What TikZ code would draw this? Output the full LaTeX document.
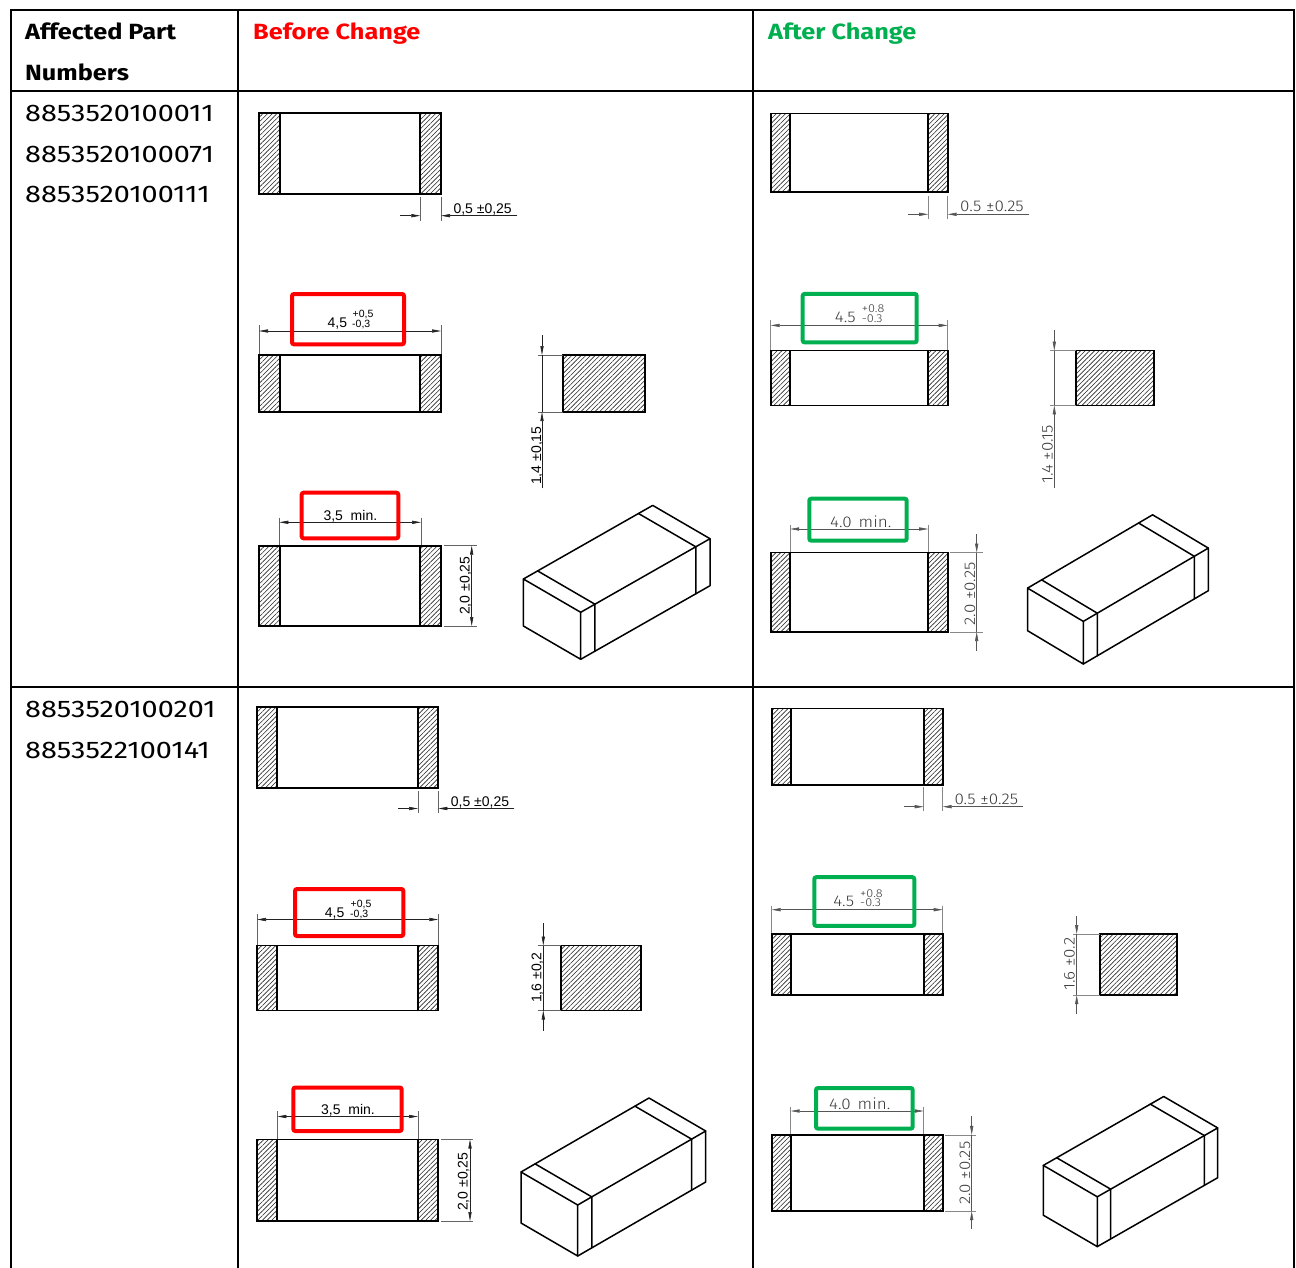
\documentclass[tikz,border=0pt]{standalone}
\usepackage{fontspec}
\setmainfont{Fira Sans}
\newfontfamily\arialf{Liberation Sans}
\newfontfamily\hdrfont[FakeStretch=1.15]{Fira Sans}
\newfontfamily\pnfont[FakeStretch=1.2]{Fira Sans}
\newfontfamily\afont[FakeStretch=1.1]{Fira Sans Light}
\usetikzlibrary{patterns.meta,arrows.meta}
\definecolor{bred}{HTML}{FF0000}
\definecolor{agreen}{HTML}{00B050}
\definecolor{bdimc}{HTML}{222222}
\definecolor{adimc}{HTML}{555555}
\definecolor{adimt}{HTML}{3A3A3A}
\def\dc{bdimc}
\tikzset{
  >={Triangle[length=9pt,width=3.2pt]},
  tablerule/.style={line width=2pt,black,line cap=rect},
  hatchfill/.style={pattern={Lines[angle=45,distance=3.3pt,line width=0.6pt]},pattern color=black!85},
  bodyline/.style={line width=1.7pt,black},
  dimln/.style={line width=0.6pt,draw=\dc},
  extln/.style={line width=0.5pt,draw=\dc!70},
  isoln/.style={line width=1.5pt,black,line join=round,line cap=round},
  redbox/.style={draw=bred,line width=4pt,rounded corners=2pt},
  greenbox/.style={draw=agreen,line width=4pt,rounded corners=2pt},
  hdr/.style={font=\hdrfont\bfseries\fontsize{22}{26}\selectfont,anchor=base west,inner sep=0pt},
  pn/.style={font=\pnfont\fontsize{24}{28}\selectfont,anchor=base west,inner sep=0pt},
  bdim/.style={font=\arialf\fontsize{14}{16}\selectfont,inner sep=0pt,text=black},
  btol/.style={font=\arialf\fontsize{10.5}{11}\selectfont,inner sep=0pt,text=black},
  adim/.style={font=\afont\fontsize{15.5}{17}\selectfont,inner sep=0pt,text=adimt},
  atol/.style={font=\afont\fontsize{11.5}{12}\selectfont,inner sep=0pt,text=adimt}
}
% chip top view: x1 x2 y1 y2 terminal
\newcommand\mychip[5]{%
  \path[hatchfill] (#1,#3) rectangle ({#1+#5},#4);
  \path[hatchfill] ({#2-#5},#3) rectangle (#2,#4);
  \draw[bodyline] (#1,#3) rectangle (#2,#4);
  \draw[bodyline] ({#1+#5},#3) -- ({#1+#5},#4) ({#2-#5},#3) -- ({#2-#5},#4);
}
% end view: x1 x2 y1 y2
\newcommand\myend[4]{%
  \path[hatchfill] (#1,#3) rectangle (#2,#4);
  \draw[bodyline] (#1,#3) rectangle (#2,#4);
}
% horizontal dim, outward tips: x1 x2 y yext1 yext2
\newcommand\myhdim[5]{%
  \draw[extln] (#1,#4) -- (#1,#5) (#2,#4) -- (#2,#5);
  \draw[dimln,<->] (#1,#3) -- (#2,#3);
}
% small dim, tips from outside: xout x1 x2 xend y yext1 yext2
\newcommand\mysdim[7]{%
  \draw[extln] (#2,#6) -- (#2,#7) (#3,#6) -- (#3,#7);
  \draw[dimln,->] (#1,#5) -- (#2,#5);
  \draw[dimln,->] (#4,#5) -- (#3,#5);
}
% vertical dim, tips from outside: x yout1 y1 y2 yout2 xext1 xext2
\newcommand\myvin[7]{%
  \draw[extln] (#6,#3) -- (#7,#3) (#6,#4) -- (#7,#4);
  \draw[dimln] (#1,#3) -- (#1,#4);
  \draw[dimln,->] (#1,#2) -- (#1,#3);
  \draw[dimln,->] (#1,#5) -- (#1,#4);
}
% vertical dim, outward tips: x y1 y2 xext1 xext2
\newcommand\myvout[5]{%
  \draw[extln] (#4,#2) -- (#5,#2) (#4,#3) -- (#5,#3);
  \draw[dimln,<->] (#1,#2) -- (#1,#3);
}
% isometric chip: Nx Ny Wx Wy Lx Ly H f
\newcommand\myiso[8]{%
  \begin{scope}[shift={(#1,#2)}]
    \draw[isoln] (0,0) -- (0,-#7) -- ({#3},{#4-#7}) -- ({#3},{#4}) -- cycle;
    \draw[isoln] (0,0) -- ({#5},{#6}) -- ({#5},{#6-#7}) -- (0,-#7);
    \draw[isoln] ({#5},{#6-#7}) -- ({#5+#3},{#6+#4-#7}) -- ({#3},{#4-#7});
    \draw[isoln] ({#8*(#5)},{#8*(#6)}) -- ({#8*(#5)},{#8*(#6)-#7}) -- ({#8*(#5)+#3},{#8*(#6)+#4-#7});
    \draw[isoln] ({(1-#8)*(#5)},{(1-#8)*(#6)}) -- ({(1-#8)*(#5)},{(1-#8)*(#6)-#7}) -- ({(1-#8)*(#5)+#3},{(1-#8)*(#6)+#4-#7});
  \end{scope}}
\begin{document}
\begin{tikzpicture}[x=1pt,y=-1pt]
\useasboundingbox[fill=white] (0,0) rectangle (1296,1268);
% table
\draw[tablerule] (11,10) -- (1294,10);
\draw[tablerule] (11,91) -- (1294,91);
\draw[tablerule] (11,687) -- (1294,687);
\draw[tablerule] (11,10) -- (11,1270);
\draw[tablerule] (238,10) -- (238,1270);
\draw[tablerule] (753,10) -- (753,1270);
\draw[tablerule] (1294,10) -- (1294,1270);
% headers
\node[hdr] (h1) at (25,40) {Affected Part};
\node[hdr] (h1b) at (25,81) {Numbers};
\node[hdr,text=bred] (h2) at (253,40) {Before Change};
\node[hdr,text=agreen] (h3) at (768,40) {After Change};
% part numbers
\node[pn] (p1) at (25,122) {8853520100011};
\node[pn] (p2) at (25,162.5) {8853520100071};
\node[pn] (p3) at (25,203) {8853520100111};
\node[pn] (p4) at (25,717.5) {8853520100201};
\node[pn] (p5) at (25,758) {8853522100141};

% ===== Before, row 1 =====
\def\dc{bdimc}
\mychip{259}{441}{112.7}{193.7}{20.7}
\mysdim{400}{420.3}{441}{517.3}{215.7}{197}{221}
\node[bdim,anchor=base west] (b1a) at (453.3,213.3) {0,5 ±0,25};
\myhdim{259}{441}{331}{325}{355}
\node[bdim,anchor=base east] (b1b) at (347.3,327.7) {4,5};
\node[btol,anchor=base west] (b1c) at (352.5,317.7) {+0,5};
\node[btol,anchor=base west] (b1d) at (352,327.3) {-0,3};
\draw[redbox] (292,294) rectangle (404,344.3);
\mychip{259}{441}{355}{412}{20.7}
\myend{563}{645}{355}{412}
\myvin{542}{335}{355}{412}{488.3}{538}{563}
\node[bdim,rotate=90,anchor=base west] (b1e) at (541,485) {1,4 ±0,15};
\myhdim{279.3}{421}{522.3}{517.7}{545.7}
\node[bdim,anchor=base west] (b1f) at (323.3,520.7) {3,5\ \ min.};
\draw[redbox] (301.7,492.7) rectangle (398.3,538.3);
\mychip{259}{441}{545.7}{626}{20.7}
\myvout{471.7}{545.7}{626}{444}{476.7}
\node[bdim,rotate=90,anchor=base west] (b1g) at (469.5,615) {2,0 ±0,25};
\myiso{580.7}{659.3}{-57.3}{-33.3}{129.3}{-73.6}{47}{0.11}

% ===== Before, row 2 =====
\mychip{257}{438.3}{707}{788}{20.3}
\mysdim{398.3}{418}{438.3}{514.3}{808.5}{791}{812.5}
\node[bdim,anchor=base west] (b2a) at (450.7,806.5) {0,5 ±0,25};
\myhdim{257}{438.3}{919.5}{914}{945.5}
\node[bdim,anchor=base east] (b2b) at (344.5,917) {4,5};
\node[btol,anchor=base west] (b2c) at (350.5,907.8) {+0,5};
\node[btol,anchor=base west] (b2d) at (350,917.3) {-0,3};
\draw[redbox] (295,889) rectangle (403.3,936);
\mychip{257}{438.3}{945.5}{1010.5}{20.3}
\myend{560.7}{641}{945.5}{1010.5}
\myvin{543.3}{923}{945.5}{1010.5}{1030.5}{537.7}{560.7}
\node[bdim,rotate=90,anchor=base west] (b2e) at (541.3,1003) {1,6 ±0,2};
\myhdim{277.3}{418}{1116.5}{1111}{1139.5}
\node[bdim,anchor=base west] (b2f) at (321,1114.3) {3,5\ \ min.};
\draw[redbox] (293.3,1087.5) rectangle (401.7,1131);
\mychip{257}{438.3}{1139.5}{1221}{20.3}
\myvout{470}{1139.5}{1221}{441}{473.3}
\node[bdim,rotate=90,anchor=base west] (b2g) at (467.5,1211) {2,0 ±0,25};
\myiso{577.7}{1256}{-56.7}{-33}{128}{-74}{51}{0.11}

% ===== After, row 1 =====
\def\dc{adimc}
\mychip{770.7}{947.7}{113.5}{192}{19.5}
\mysdim{907.7}{928.2}{947.7}{1029.3}{214.3}{195.7}{219}
\node[adim,anchor=base west] (a1a) at (960,212) {0.5 ±0.25};
\myhdim{770.7}{947.7}{325.4}{320}{350.6}
\node[adim,anchor=base east] (a1b) at (856,322.8) {4.5};
\node[atol,anchor=base west] (a1c) at (861.7,312.8) {+0.8};
\node[atol,anchor=base west] (a1d) at (861.7,322) {-0.3};
\draw[greenbox] (802.7,293.9) rectangle (916.7,342.4);
\mychip{770.7}{947.7}{350.6}{405.4}{19.5}
\myend{1075.7}{1154.3}{350.6}{405.4}
\myvin{1054.3}{330}{350.6}{405.4}{488.3}{1050}{1075.7}
\node[adim,rotate=90,anchor=base west] (a1e) at (1052.5,484) {1.4 ±0.15};
\myhdim{790.2}{928.2}{529}{524.6}{552.5}
\node[adim,anchor=base west] (a1f) at (830,527) {4.0\hspace{0.45em}min.};
\draw[greenbox] (809.3,498.7) rectangle (906.7,540.6);
\mychip{770.7}{947.7}{552.5}{632}{19.5}
\myvin{976.7}{534}{552.5}{632}{650.5}{950}{982.7}
\node[adim,rotate=90,anchor=base west] (a1g) at (975,625.5) {2.0 ±0.25};
\myiso{1083.3}{664}{-55.7}{-33.3}{125}{-73.3}{42.6}{0.112}

% ===== After, row 2 =====
\mychip{771.7}{942.7}{708.5}{784.8}{19}
\mysdim{904.3}{923.7}{942.7}{1022.7}{806.7}{787}{811}
\node[adim,anchor=base west] (a2a) at (954.3,804) {0.5 ±0.25};
\myhdim{771.7}{942.7}{909.7}{905.6}{934}
\node[adim,anchor=base east] (a2b) at (854.3,906.7) {4.5};
\node[atol,anchor=base west] (a2c) at (860,897) {+0.8};
\node[atol,anchor=base west] (a2d) at (860,906.2) {-0.3};
\draw[greenbox] (814.3,877.2) rectangle (914.3,925.9);
\mychip{771.7}{942.7}{934}{995.2}{19}
\myend{1100}{1176.7}{934}{995.2}
\myvin{1076.7}{915.6}{934}{995.2}{1013.6}{1073}{1100}
\node[adim,rotate=90,anchor=base west] (a2e) at (1074.5,991) {1.6 ±0.2};
\myhdim{790.7}{923.7}{1111}{1106.5}{1134.9}
\node[adim,anchor=base west] (a2f) at (829,1109) {4.0\hspace{0.45em}min.};
\draw[greenbox] (816,1088) rectangle (912.7,1128.6);
\mychip{771.7}{942.7}{1134.9}{1211.2}{19}
\myvin{971.7}{1115.7}{1134.9}{1211.2}{1228.9}{945}{976}
\node[adim,rotate=90,anchor=base west] (a2g) at (970,1205) {2.0 ±0.25};
\myiso{1097.3}{1246.6}{-54}{-31.4}{120.4}{-68.9}{49.8}{0.111}
\end{tikzpicture}
\end{document}
